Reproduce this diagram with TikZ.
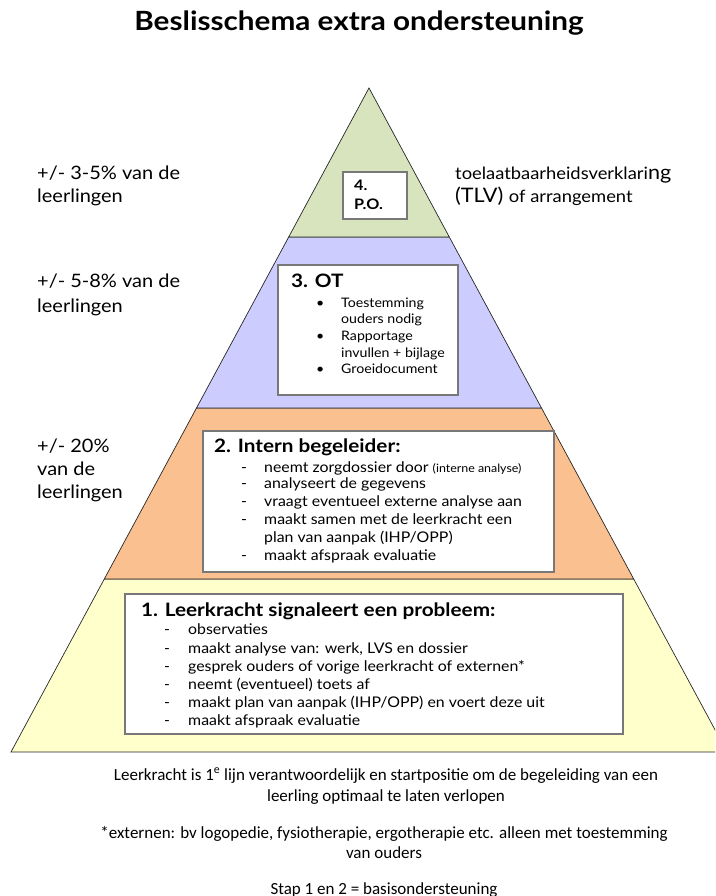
\documentclass[tikz,border=0pt]{standalone}
\usepackage{fontspec}
\setmainfont{Lato}[FakeStretch=1.08]
\newfontfamily\hb{Lato}[FakeStretch=1.12]
\newfontfamily\calib{Carlito}
\definecolor{bgreen}{RGB}{215,228,189}
\definecolor{bblue}{RGB}{204,204,255}
\definecolor{borange}{RGB}{250,192,144}
\definecolor{byellow}{RGB}{255,255,204}
\definecolor{boxgray}{RGB}{120,120,120}
\newcommand{\fs}[1]{\fontsize{#1}{#1}\selectfont}
\begin{document}
\begin{tikzpicture}[x=1pt,y=-1pt,
  band/.style={draw=black!85,line width=0.7pt},
  whitebox/.style={draw=boxgray,line width=1.3pt,fill=white,inner sep=0pt,rectangle},
  txt/.style={anchor=base west,inner sep=0pt},
  ctxt/.style={anchor=base,inner sep=0pt,font=\calib\fs{17}},
  side/.style={txt,font=\fs{18.5}},
  head/.style={txt,font=\hb\bfseries\fs{18.5}},
  item/.style={txt,font=\fs{14.7}},
  oitem/.style={txt,font=\fs{13.1}}]
\useasboundingbox (0,0) rectangle (715,896);
\clip (0,0) rectangle (715,896);
% pyramid bands
\fill[byellow] (104.3,579)--(633.7,579)--(727,752)--(11,752)--cycle;
\draw[band] (104.3,579)--(633.7,579)--(727,752)--(11,752)--cycle;
\draw[band,fill=borange] (196.5,408)--(541.5,408)--(633.7,579)--(104.3,579)--cycle;
\draw[band,fill=bblue] (288.7,237)--(449.3,237)--(541.5,408)--(196.5,408)--cycle;
\draw[band,fill=bgreen] (369,88)--(449.3,237)--(288.7,237)--cycle;
% title
\node[anchor=base,inner sep=0pt,font=\hb\bfseries\fs{26.5}] (title) at (359,31) {Beslisschema extra ondersteuning};
% boxes
\node[whitebox,minimum width=64pt,minimum height=47pt] (b4) at (375,195.5) {};
\node[whitebox,minimum width=180pt,minimum height=130pt] (b3) at (368,330) {};
\node[whitebox,minimum width=351pt,minimum height=141pt] (b2) at (378.5,501.5) {};
\node[whitebox,minimum width=498pt,minimum height=140pt] (b1) at (374,664) {};
% box 4
\node[txt,font=\hb\bfseries\fs{14.5}] (t4a) at (354,190) {4.};
\node[txt,font=\hb\bfseries\fs{14.5}] (t4b) at (354,209) {P.O.};
% box 3
\node[head] (t3) at (291,287) {3. OT};
\node[oitem] (t3a) at (341,307) {Toestemming};
\node[oitem] (t3b) at (341,323) {ouders nodig};
\node[oitem] (t3c) at (341,340) {Rapportage};
\node[oitem] (t3d) at (341,357) {invullen + bijlage};
\node[oitem] (t3e) at (341,373) {Groeidocument};
\foreach \yy/\nm in {307/a,340/c,373/e}
  \node[oitem] (bul\nm) at (316,\yy) {•};
% box 2
\node[head] (t2) at (214,452) {2. Intern begeleider:};
\node[item] (t2a) at (264,472) {neemt zorgdossier door {\fs{11.5}(interne analyse)}};
\node[item] (t2b) at (264,488) {analyseert de gegevens};
\node[item] (t2c) at (264,506) {vraagt eventueel externe analyse aan};
\node[item] (t2d) at (264,524) {maakt samen met de leerkracht een};
\node[item] (t2e) at (264,542) {plan van aanpak (IHP/OPP)};
\node[item] (t2f) at (264,560) {maakt afspraak evaluatie};
\foreach \yy/\nm in {472/a,488/b,506/c,524/d,560/f}
  \node[item] (d2\nm) at (241,\yy) {-};
% box 1
\node[head] (t1) at (141,616) {1. Leerkracht signaleert een probleem:};
\node[item] (t1a) at (188,634) {observaties};
\node[item] (t1b) at (188,653) {maakt analyse van: werk, LVS en dossier};
\node[item] (t1c) at (188,671) {gesprek ouders of vorige leerkracht of externen*};
\node[item] (t1d) at (188,689) {neemt (eventueel) toets af};
\node[item] (t1e) at (188,707) {maakt plan van aanpak (IHP/OPP) en voert deze uit};
\node[item] (t1f) at (188,725) {maakt afspraak evaluatie};
\foreach \yy/\nm in {634/a,653/b,671/c,689/d,707/e,725/f}
  \node[item] (d1\nm) at (164,\yy) {-};
% side labels
\node[side] (s4a) at (37,179) {+/- 3-5\% van de};
\node[side] (s4b) at (37,203) {leerlingen};
\node[side] (s3a) at (37,287) {+/- 5-8\% van de};
\node[side] (s3b) at (37,312) {leerlingen};
\node[side] (s2a) at (37,452) {+/- 20\%};
\node[side] (s2b) at (37,475) {van de};
\node[side] (s2c) at (37,498) {leerlingen};
\node[txt] (r1) at (455,179) {\fs{17}toelaatbaarheidsverklari\fs{20}ng};
\node[txt] (r2) at (455,203) {\fs{20}(TLV) \fs{17}of arrangement};
% bottom notes
\node[ctxt] (n1) at (386,780) {Leerkracht is 1\textsuperscript{e} lijn verantwoordelijk en startpositie om de begeleiding van een};
\node[ctxt] (n2) at (386,801) {leerling optimaal te laten verlopen};
\node[ctxt] (n3) at (384,838) {*externen: bv logopedie, fysiotherapie, ergotherapie etc. alleen met toestemming};
\node[ctxt] (n4) at (384,858) {van ouders};
\node[ctxt] (n5) at (384,894) {Stap 1 en 2 = basisondersteuning};
\end{tikzpicture}
\end{document}
